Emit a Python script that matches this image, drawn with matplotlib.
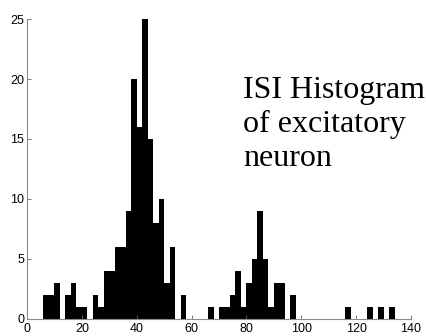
import numpy as np
import matplotlib.pyplot as plt

# inter-spike intervals binned 2 wide, from 6 to 134
bin_edges = np.arange(6, 136, 2)
counts = [2, 2, 3, 0, 2, 3, 1, 1, 0, 2, 1, 4, 4, 6, 6, 9,
          20, 16, 25, 15, 8, 10, 3, 6, 0, 2, 0, 0, 0, 0, 1, 0,
          1, 1, 2, 4, 1, 3, 5, 9, 5, 1, 3, 3, 0, 2, 0, 0,
          0, 0, 0, 0, 0, 0, 0, 1, 0, 0, 0, 1, 0, 1, 0, 1]
x_ticks = [0, 20, 40, 60, 80, 100, 120, 140]
y_ticks = [0, 5, 10, 15, 20, 25]

fig = plt.figure(figsize=(4.27, 3.36), dpi=100)
ax = fig.add_axes([0.0632, 0.052, 0.8993, 0.8906])

ax.bar(bin_edges[:-1], counts, width=2, align='edge', color='k', linewidth=0)

ax.set_xlim(0, 140)
ax.set_ylim(0, 25)
ax.set_xticks(x_ticks)
ax.set_yticks(y_ticks)

for side in ['top', 'right']:
    ax.spines[side].set_visible(False)
for side in ['left', 'bottom']:
    ax.spines[side].set_color('0.55')
    ax.spines[side].set_linewidth(0.8)

ax.tick_params(direction='in', length=3, width=0.6, color='0.4',
               labelsize=9, labelcolor='k')
ax.tick_params(axis='x', pad=3)
ax.tick_params(axis='y', pad=2)
for lab in ax.get_xticklabels() + ax.get_yticklabels():
    lab.set_family('Liberation Sans')

title_lines = ['ISI Histogram', 'of excitatory', 'neuron']
baselines = [97.7, 132.2, 166.0]
for txt, yb in zip(title_lines, baselines):
    fig.text(243 / 427, 1 - yb / 336, txt, family='Liberation Serif',
             fontsize=23, va='baseline', ha='left', color='k')

fig.savefig('out.png', dpi=100)
